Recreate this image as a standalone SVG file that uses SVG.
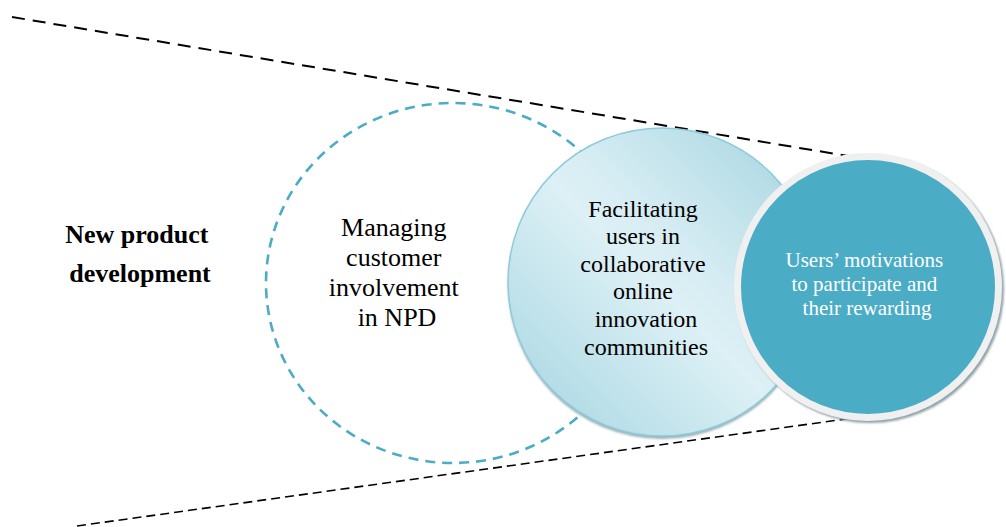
<svg xmlns="http://www.w3.org/2000/svg" width="1006" height="527" viewBox="0 0 1006 527">
  <style>
    .guide { fill: none; stroke: #000; }
    .label { font-family: "Liberation Serif", "Times New Roman", serif; text-anchor: middle; }
    .dark { fill: #000; }
    .light { fill: #fff; }
  </style>
  <defs>
    <linearGradient id="paleAqua" x1="0" y1="1" x2="1" y2="0">
      <stop offset="0" stop-color="#a3d4e1"/>
      <stop offset="0.48" stop-color="#dcf0f5"/>
      <stop offset="0.56" stop-color="#d9eef4"/>
      <stop offset="1" stop-color="#a2d3df"/>
    </linearGradient>
    <filter id="softShadow" x="-10%" y="-10%" width="120%" height="120%">
      <feGaussianBlur stdDeviation="0.8"/>
    </filter>
  </defs>

  <!-- funnel guide lines -->
  <g id="connectors">
    <line class="guide" x1="12" y1="17" x2="860" y2="158" stroke-width="2" stroke-dasharray="13 8"/>
    <line class="guide" x1="77" y1="526" x2="860" y2="417" stroke-width="1.6" stroke-dasharray="9 5"/>
  </g>

  <!-- outer context label -->
  <g id="npd-label">
    <text class="label dark" font-size="26" font-weight="bold">
      <tspan x="140" y="243">New product</tspan>
      <tspan x="140" y="282">development</tspan>
    </text>
  </g>

  <!-- dashed outline circle -->
  <g id="managing-involvement">
    <ellipse cx="453" cy="283" rx="187" ry="180" fill="none" stroke="#4bacc6" stroke-width="2.6" stroke-dasharray="10 7"/>
    <text class="label dark" font-size="26">
      <tspan x="397" y="236">Managing</tspan>
      <tspan x="397" y="266">customer</tspan>
      <tspan x="397" y="296">involvement</tspan>
      <tspan x="397" y="326">in NPD</tspan>
    </text>
  </g>

  <!-- gradient circle -->
  <g id="facilitating-communities">
    <circle cx="662" cy="285" r="154" fill="#9cb2b8" filter="url(#softShadow)"/>
    <circle cx="662" cy="282" r="154" fill="url(#paleAqua)" stroke="#8ecbdb" stroke-width="1.5"/>
    <text class="label dark" font-size="24">
      <tspan x="646" y="216.5">Facilitating</tspan>
      <tspan x="646" y="244">users in</tspan>
      <tspan x="646" y="271.7">collaborative</tspan>
      <tspan x="646" y="299.3">online</tspan>
      <tspan x="649" y="326.9">innovation</tspan>
      <tspan x="646" y="354.5">communities</tspan>
    </text>
  </g>

  <!-- solid teal circle -->
  <g id="users-motivations">
    <circle cx="870" cy="289" r="134" fill="#8fa3a9" filter="url(#softShadow)"/>
    <circle cx="868" cy="287" r="130.5" fill="#4bacc6" stroke="#f0f0f0" stroke-width="7"/>
    <text class="label light" font-size="21">
      <tspan x="867" y="267">Users’ motivations</tspan>
      <tspan x="867" y="291">to participate and</tspan>
      <tspan x="867" y="315">their rewarding</tspan>
    </text>
  </g>
</svg>
